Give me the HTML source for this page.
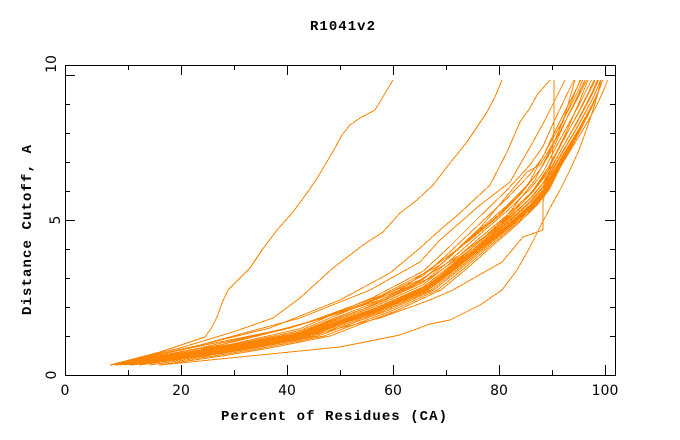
<!DOCTYPE html>
<html><head><meta charset="utf-8"><style>
html,body{margin:0;padding:0;background:#fff;}
svg{display:block;}
</style></head><body>
<svg width="680" height="440" viewBox="0 0 680 440" xmlns="http://www.w3.org/2000/svg">
<rect x="0" y="0" width="680" height="440" fill="#fff"/>
<defs>
<clipPath id="cp"><rect x="66" y="80" width="549" height="290"/></clipPath>
<path id="b" d="M110,365 L180,356 L233,348 L300,336 L340,322 L373,311 L423,290 L450,270 L480,246 L507,225 L530,205 L543,190 L553,172 L566,150 L577,132 L586,116 L593,103 L598,92 L602,82 L605,70 L607,60" fill="none" stroke="#ff8400" stroke-width="1" vector-effect="non-scaling-stroke"/>
</defs>
<g clip-path="url(#cp)" fill="none" stroke="#ff8400" stroke-width="1" shape-rendering="crispEdges">
<use href="#b"/>
<use href="#b" transform="matrix(1,0,0,1.02,0,-7.3)"/>
<use href="#b" transform="matrix(1,0,0,1.04,0,-14.6)"/>
<use href="#b" transform="matrix(1,0,0,1.07,0,-25.55)"/>
<use href="#b" transform="matrix(1,0,0,1.10,0,-36.5)"/>
<use href="#b" transform="matrix(1,0,0,1.14,0,-51.1)"/>
<use href="#b" transform="matrix(1,0,0,1.19,0,-69.35)"/>
<use href="#b" transform="matrix(1,0,0,1.25,0,-91.25)"/>
<use href="#b" transform="matrix(0.99,0,0,1,6.02,0)"/>
<use href="#b" transform="matrix(0.98,0,0,1,12.04,0)"/>
<use href="#b" transform="matrix(0.97,0,0,1,18.06,0)"/>
<use href="#b" transform="matrix(0.955,0,0,1,27.09,0)"/>
<use href="#b" transform="matrix(0.94,0,0,1,36.12,0)"/>
<use href="#b" transform="matrix(0.92,0,0,1,48.16,0)"/>
<use href="#b" transform="matrix(0.90,0,0,1,60.2,0)"/>
<use href="#b" transform="matrix(0.97,0,0,1.05,3.3,-18.25)"/>
<use href="#b" transform="matrix(1.01,0,0,1,-1.1,0)"/>
<use href="#b" transform="matrix(0.97,0,0,1.05,18.06,-18.25)"/>
<use href="#b" transform="matrix(0.985,0,0,1.02,9,-7.3)"/>
<use href="#b" transform="matrix(0.96,0,0,1.08,24,-29.2)"/>
<!-- C1 leftmost -->
<polyline points="110,365 160,352 205,337 212,327 217,317 222,303 228,290 240,278 250,268 262,250 277,230 293,212 307,193 316,180 325,165 335,148 342,135 350,125 360,118 375,110 384,95 393,80"/>
<!-- C2 -->
<polyline points="110,365 180,348 233,332 273,318 300,298 333,268 363,245 383,232 400,213 417,200 433,185 450,163 467,142 487,112 495,97 502,80"/>
<!-- C3 -->
<polyline points="110,365 180,350 270,328 340,300 390,273 420,248 440,230 460,213 490,185 507,152 520,122 530,108 537,95 550,80"/>
<!-- C4 vertical -->
<polyline points="115,365 200,355 300,338 380,318 430,300 453,290 502,262 523,237 543,230 543,202 548,180 552,158 554,128 554,80"/>
<!-- C5 lowest -->
<polyline points="160,365 250,356 340,347 400,335 430,324 450,320 480,305 502,290 517,270 530,247 540,227 550,208 560,190 570,170 579,150 587,128 593,110 598,93 601,80"/>
<!-- C6 -->
<polyline points="110,365 200,345 300,318 370,290 420,262 440,240 480,205 510,182 533,142 545,120 555,100 565,80"/>
<!-- C7 -->
<polyline points="110,365 200,348 300,325 380,296 440,265 480,228 527,172 540,165 555,140 565,115 575,80"/>
<!-- C8 -->
<polyline points="110,365 200,346 280,330 350,310 400,290 440,262 470,240 500,215 520,195 540,170 555,145 566,120 578,95 585,80"/>
<!-- C9 -->
<polyline points="110,365 200,350 290,328 360,305 420,280 460,255 500,225 530,195 550,165 565,135 578,105 588,80"/>
<!-- C10 -->
<polyline points="110,365 220,345 310,322 380,300 430,278 470,250 505,218 535,180 555,140 570,105 580,80"/>
</g>
<!-- frame -->
<g stroke="#000" stroke-width="1" fill="none" shape-rendering="crispEdges">
<rect x="65.5" y="65.5" width="550" height="310"/>
<path d="M181.5,375V365M287.5,375V365M393.5,375V365M499.5,375V365M605.5,375V365
M128.5,375V370M234.5,375V370M340.5,375V370M446.5,375V370M552.5,375V370
M181.5,65V75M287.5,65V75M393.5,65V75M499.5,65V75M605.5,65V75
M128.5,65V70M234.5,65V70M340.5,65V70M446.5,65V70M552.5,65V70"/>
<path d="M65,75.5H75M65,220.5H75M615,75.5H605M615,220.5H605
M65,336.5H70M65,307.5H70M65,278.5H70M65,249.5H70M65,191.5H70M65,162.5H70M65,133.5H70M65,104.5H70
M615,336.5H610M615,307.5H610M615,278.5H610M615,249.5H610M615,191.5H610M615,162.5H610M615,133.5H610M615,104.5H610"/>
</g>
<!-- tick labels -->
<g font-family="'DejaVu Sans','Liberation Sans',sans-serif" font-size="14" fill="#000" text-anchor="middle">
<text x="65" y="395">0</text>
<text x="181" y="395">20</text>
<text x="287" y="395">40</text>
<text x="393" y="395">60</text>
<text x="499" y="395">80</text>
<text x="605" y="395">100</text>
<text transform="translate(56,64) rotate(-90)">10</text>
<text transform="translate(60,220) rotate(-90)">5</text>
<text transform="translate(56,375) rotate(-90)">0</text>
</g>
<!-- titles -->
<g font-family="'Liberation Mono',monospace" font-weight="bold" fill="#000">
<text x="310" y="30" font-size="14" textLength="65" lengthAdjust="spacing">R1041v2</text>
<text x="221" y="420" font-size="14" textLength="226" lengthAdjust="spacing">Percent of Residues (CA)</text>
<text transform="translate(31,315) rotate(-90)" font-size="14" textLength="170" lengthAdjust="spacing">Distance Cutoff, A</text>
</g>
</svg>
</body></html>
